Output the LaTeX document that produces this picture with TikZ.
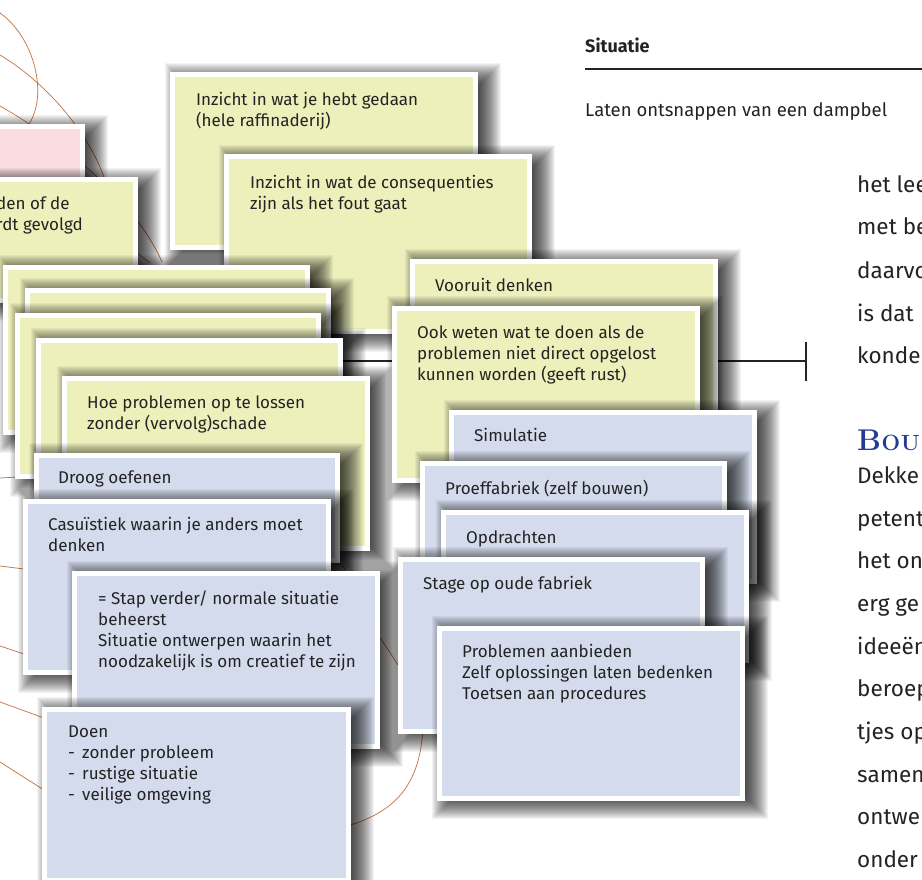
\documentclass[tikz,border=0pt]{standalone}
\usepackage{fontspec}
\setsansfont{Fira Sans}
\usetikzlibrary{arrows.meta}
\definecolor{cgreen}{RGB}{237,240,187}
\definecolor{cblue}{RGB}{212,219,237}
\definecolor{cpink}{RGB}{249,221,224}
\definecolor{corange}{RGB}{198,112,62}
\definecolor{cheadblue}{RGB}{36,60,145}
\definecolor{ctext}{RGB}{35,35,35}
\tikzset{
  cardframe/.style={draw=white, line width=5pt, inner sep=0pt, anchor=north west},
  cardtext/.style={anchor=north west, inner sep=0pt, align=left, text=ctext,
    font=\sffamily\fontsize{17}{21}\selectfont},
  mindline/.style={draw=corange, line width=0.7pt},
  bodytext/.style={anchor=base west, inner sep=0pt, text=ctext,
    font=\sffamily\fontsize{22.5}{22.5}\selectfont},
}
\newcommand\shadowrect[4]{%
  \foreach \e in {14,13,...,-12}{%
    \fill[black, opacity=0.048] ({#1+12-\e},{#2+7-\e}) rectangle ({#3+12+\e},{#4+7+\e});
  }%
}
% name, x1, y1, x2, y2, fill, text x, text y (first line centre), text
\newcommand\card[9]{%
  \shadowrect{#2}{#3}{#4}{#5}
  \node[cardframe, fill=#6, minimum width={#4-#2-5}, minimum height={#5-#3-5}] (#1) at ({#2+2.5},{#3+2.5}) {};
  \node[cardtext] (#1t) at (#7,{#8-6.5}) {#9};
}
\begin{document}
\begin{tikzpicture}[x=1pt,y=-1pt]
\useasboundingbox (0,0) rectangle (922,880);
\clip (0,0) rectangle (922,880);
\fill[white] (0,0) rectangle (922,880);

% background mind-map curves
\draw[mindline] (0,13) .. controls (35,38) and (48,95) .. (29,124);
\draw[mindline] (0,55) .. controls (50,85) and (95,140) .. (108,190);
\draw[mindline] (0,106) .. controls (60,140) and (135,200) .. (162,262);
\draw[mindline] (128,246) -- (150,263);
\draw[mindline] (0,478) -- (35,476);
\draw[mindline] (0,566) -- (24,569);
\draw[mindline] (0,646) -- (24,654);
\draw[mindline] (0,702) -- (44,718);
\draw[mindline] (0,762) -- (44,790);
\draw[mindline] (333,555) -- (346,570);
\draw[mindline] (372,628) .. controls (382,640) .. (398,665);
\draw[mindline] (423,725) .. controls (421,790) and (390,815) .. (340,828);

% back cards
\card{pink}{-20}{122}{82}{215}{cpink}{0}{0}{}
\card{den}{-20}{175}{135}{300}{cgreen}{-4}{203}{den of de\\rdt gevolgd}
\card{inzA}{167}{70}{475}{248}{cgreen}{196}{99}{Inzicht in wat je hebt gedaan\\(hele raffinaderij)}
\card{inzB}{221}{152}{529}{331}{cgreen}{250}{182}{Inzicht in wat de consequenties\\zijn als het fout gaat}

% connector to the text column
\coordinate (lineL) at (300,361);
\coordinate (tickC) at (807,361);
\draw[ctext, line width=2.2pt, -{Bar[width=39pt, line width=2pt]}] (lineL) -- (tickC);

% left stack of green cards
\card{stA}{0}{262}{307}{432}{cgreen}{0}{0}{}
\card{stB}{22}{285}{328}{455}{cgreen}{0}{0}{}
\card{stC}{12}{310}{318}{476}{cgreen}{0}{0}{}
\card{stD}{33}{335}{340}{470}{cgreen}{0}{0}{}
\card{hoe}{59}{373}{367}{548}{cgreen}{87}{402}{Hoe problemen op te lossen\\zonder (vervolg)schade}

% right green cards
\card{voor}{407}{256}{715}{430}{cgreen}{435}{285}{Vooruit denken}
\card{ook}{389}{303}{697}{480}{cgreen}{417}{332}{Ook weten wat te doen als de\\problemen niet direct opgelost\\kunnen worden (geeft rust)}

% left blue cards
\card{droog}{31}{450}{337}{560}{cblue}{58}{477}{Droog oefenen}
\card{casu}{20}{496}{328}{672}{cblue}{48}{524}{Casuïstiek waarin je anders moet\\denken}
\card{stap}{69}{568}{377}{746}{cblue}{98}{597}{= Stap verder/ normale situatie\\beheerst\\Situatie ontwerpen waarin het\\noodzakelijk is om creatief te zijn}
\card{doen}{39}{704}{348}{880}{cblue}{68}{732}{Doen\\\makebox[14pt][l]{-}zonder probleem\\\makebox[14pt][l]{-}rustige situatie\\\makebox[14pt][l]{-}veilige omgeving}

% right blue cards
\card{sim}{446}{407}{754}{581}{cblue}{474}{435}{Simulatie}
\card{proef}{417}{458}{724}{600}{cblue}{445}{486}{Proeffabriek (zelf bouwen)}
\card{opdr}{438}{507}{746}{660}{cblue}{466}{537}{Opdrachten}
\card{stage}{395}{554}{702}{731}{cblue}{423}{583}{Stage op oude fabriek}
\card{probl}{434}{623}{742}{798}{cblue}{462}{651}{Problemen aanbieden\\Zelf oplossingen laten bedenken\\Toetsen aan procedures}

% page column on the right
\node[anchor=base west, inner sep=0pt, text=ctext, font=\sffamily\bfseries\fontsize{18}{18}\selectfont] (sit) at (585,53) {Situatie};
\coordinate (ruleL) at (585,69);
\coordinate (ruleR) at (922,69);
\draw[ctext, line width=2.4pt] (ruleL) -- (ruleR);
\node[anchor=base west, inner sep=0pt, text=ctext, font=\sffamily\fontsize{18.5}{18.5}\selectfont] (laten) at (585,117) {Laten ontsnappen van een dampbel};

\node[bodytext] (b1) at (857,192.5) {het lee};
\node[bodytext] (b2) at (857,235) {met be};
\node[bodytext] (b3) at (857,278) {daarvo};
\node[bodytext] (b4) at (857,321) {is dat};
\node[bodytext] (b5) at (857,363) {konde};
\node[anchor=base west, inner sep=0pt, text=cheadblue, font=\bfseries] (head) at (857,450)
  {\fontsize{30}{30}\selectfont B\kern0.5pt\fontsize{22}{22}\selectfont O\kern0.5pt U};
\node[bodytext] (c1) at (857,483) {Dekke};
\node[bodytext] (c2) at (857,526) {petent};
\node[bodytext] (c3) at (857,568) {het on};
\node[bodytext] (c4) at (857,611) {erg ge};
\node[bodytext] (c5) at (857,654) {ideeën};
\node[bodytext] (c6) at (857,696) {beroep};
\node[bodytext] (c7) at (857,739) {tjes op};
\node[bodytext] (c8) at (857,782) {samen};
\node[bodytext] (c9) at (857,824) {ontwe};
\node[bodytext] (c10) at (857,867) {onder};
\end{tikzpicture}
\end{document}
